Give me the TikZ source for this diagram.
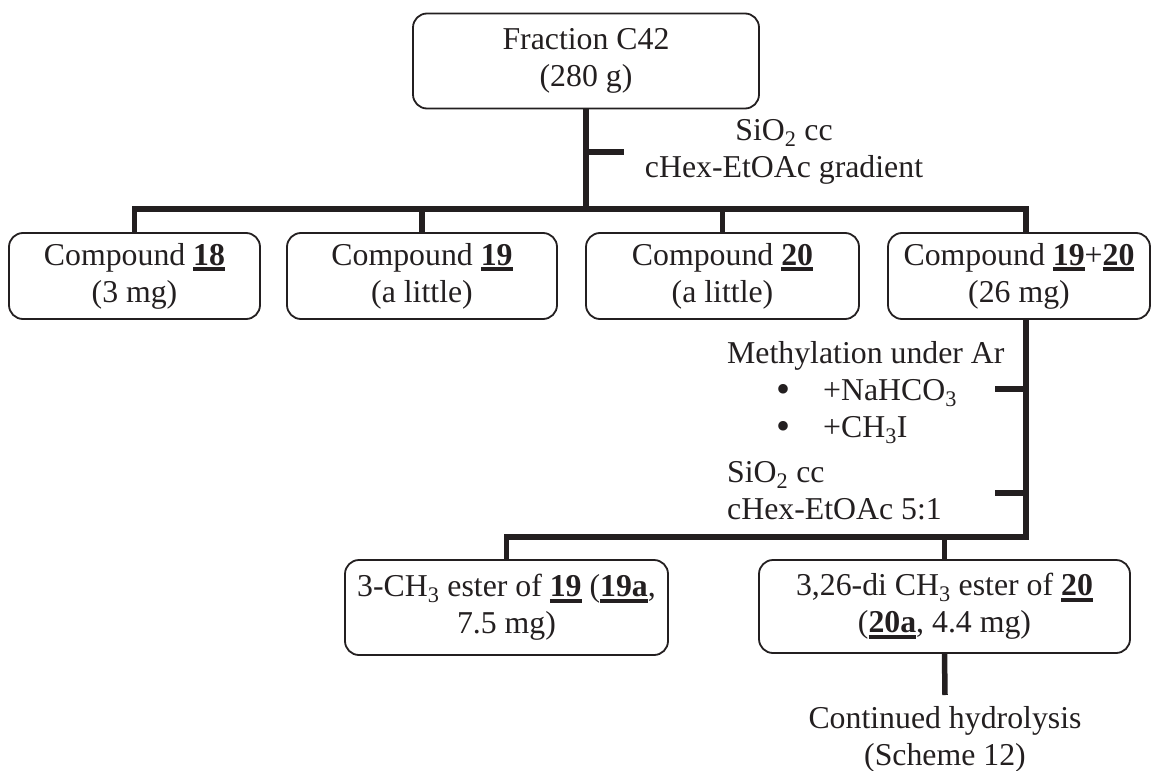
\documentclass[tikz,border=0pt]{standalone}
\usepackage{fontspec}
\setmainfont{Liberation Serif}
\usepackage{xcolor}
\usetikzlibrary{positioning,calc}
\definecolor{ink}{HTML}{231F20}
\newsavebox{\cmpdbox}
\newcommand{\cmpd}[1]{\sbox{\cmpdbox}{\textbf{#1}}\rlap{\rule[-6pt]{\wd\cmpdbox}{4pt}}\usebox{\cmpdbox}}
\newcommand{\bigdot}{\smash{\raisebox{-2pt}{\fontsize{40}{0}\selectfont\textbullet}}}

\begin{document}
\begin{tikzpicture}[x=1pt, y=-1pt, color=ink,
    every node/.style={font=\fontsize{31.8}{37}\selectfont, inner sep=0pt},
    box/.style={draw, line width=1.8pt, rounded corners=14pt, align=center},
    link/.style={line width=5.5pt}]
    \useasboundingbox (0,0) rectangle (1152,771);

    \node[box, minimum width=346pt, minimum height=95pt] (frac) at (586,61) {Fraction C42\\(280 g)};
    \node[align=center] (sep1) at (784,152) {SiO\textsubscript{2} cc\\cHex-EtOAc gradient};

    \foreach \i/\x/\w/\txt in {1/134.5/251/{Compound \cmpd{18}\\(3 mg)},
                              2/422/270/{Compound \cmpd{19}\\(a little)},
                              3/722.5/273/{Compound \cmpd{20}\\(a little)},
                              4/1019/262/{Compound \cmpd{19}+\cmpd{20}\\(26 mg)}} {
        \node[box, minimum width=\w pt, minimum height=86pt] (cmp\i) at (\x,276) {\txt};
    }

    % Fractionation tree
    \coordinate (j0) at (586,209);
    \coordinate (j4) at (1026,209);
    \coordinate (t0) at (586,152);
    \draw[link] (frac.south) -- (j0);
    \draw[link] (t0) -- ++(38,0);
    \draw[link] (cmp1.north) -- (cmp1.north |- j0) -- (j4) -- (j4 |- cmp4.north);
    \foreach \i in {2,3}
        \draw[link] (cmp\i.north) -- (cmp\i.north |- j0);

    \node[align=left, anchor=north west] (meth) at (727,341.3) {\fontsize{31.8}{37.5}\selectfont
        Methylation under Ar\\
        \hspace*{49pt}\makebox[47pt][l]{\bigdot}+NaHCO\textsubscript{3}\\
        \hspace*{49pt}\makebox[47pt][l]{\bigdot}+CH\textsubscript{3}I};
    \node[align=left, anchor=north west] (sep2) at (727,461) {\fontsize{31.8}{39}\selectfont
        SiO\textsubscript{2} cc\\cHex-EtOAc 5:1};

    \node[box, minimum width=323pt, minimum height=95pt] (est1) at (506.5,607.5) {\fontsize{31.8}{42}\selectfont
        3-CH\textsubscript{3} ester of \cmpd{19} (\cmpd{19a},\\7.5 mg)};
    \node[box, minimum width=371pt, minimum height=93pt] (est2) at (944.5,606.5) {\fontsize{31.8}{42}\selectfont
        3,26-di CH\textsubscript{3} ester of \cmpd{20}\\(\cmpd{20a}, 4.4 mg)};
    \node[align=center, anchor=north, inner ysep=11pt] (fin) at (945,695) {\fontsize{31.8}{34}\selectfont
        Continued hydrolysis\\(Scheme 12)};

    % Methylation branch
    \coordinate (j5) at (1026,537);
    \coordinate (t1) at (1026,389);
    \coordinate (t2) at (1026,493);
    \draw[link] (j4 |- cmp4.south) -- (j5) -- (est1.north |- j5) -- (est1.north);
    \draw[link] (est2.north) -- (est2.north |- j5);
    \draw[link] (t1) -- ++(-31,0);
    \draw[link] (t2) -- ++(-31,0);
    \draw[link] (est2.south) -- (fin.north);
\end{tikzpicture}
\end{document}
